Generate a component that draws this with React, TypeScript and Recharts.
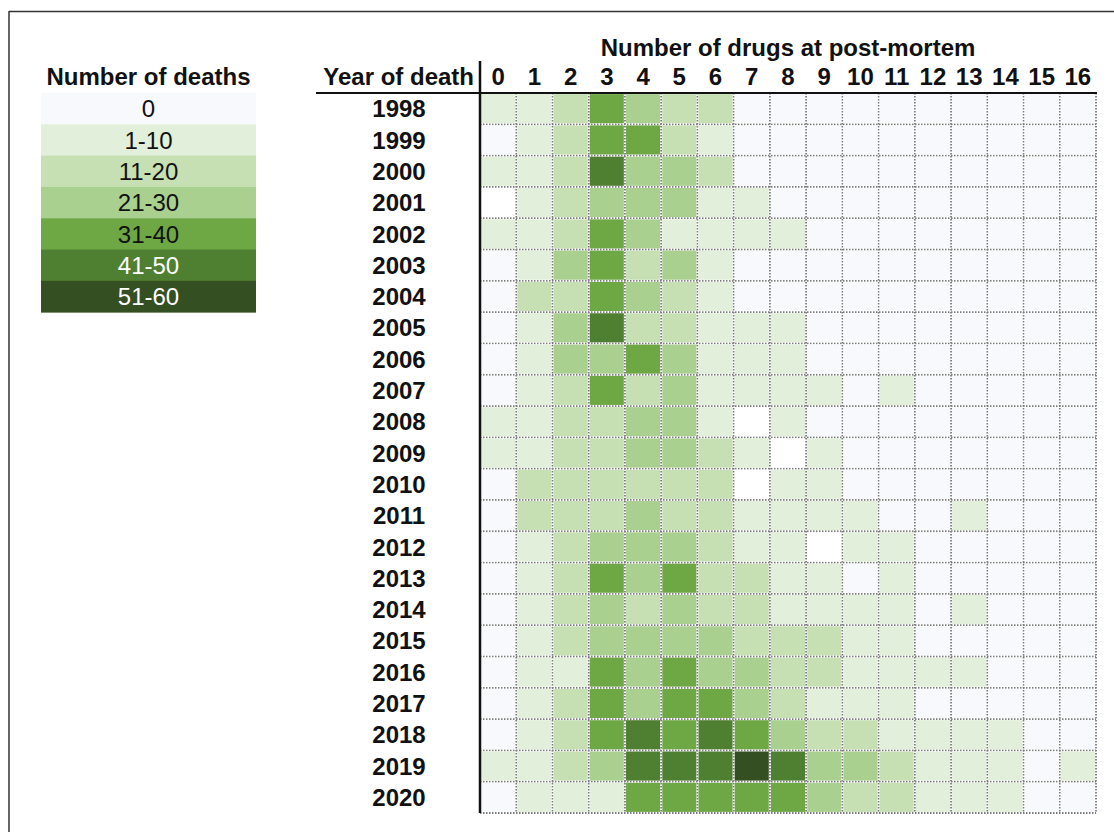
import React from 'react';
import { ScatterChart, Scatter, XAxis, YAxis, CartesianGrid } from 'recharts';

// Rows: year of death. Columns: number of drugs found at post-mortem (0..16).
// Each entry is the estimated number of deaths; null marks an empty cell.
const YEARS = [
  1998, 1999, 2000, 2001, 2002, 2003, 2004, 2005, 2006, 2007, 2008, 2009,
  2010, 2011, 2012, 2013, 2014, 2015, 2016, 2017, 2018, 2019, 2020,
];
const DRUG_COUNTS = [0, 1, 2, 3, 4, 5, 6, 7, 8, 9, 10, 11, 12, 13, 14, 15, 16];

const DEATHS_1998 = [5, 5, 15, 35, 25, 15, 15, 0, 0, 0, 0, 0, 0, 0, 0, 0, 0];
const DEATHS_1999 = [0, 5, 15, 35, 35, 15, 5, 0, 0, 0, 0, 0, 0, 0, 0, 0, 0];
const DEATHS_2000 = [5, 5, 15, 45, 25, 25, 15, 0, 0, 0, 0, 0, 0, 0, 0, 0, 0];
const DEATHS_2001 = [null, 5, 15, 25, 25, 25, 5, 5, 0, 0, 0, 0, 0, 0, 0, 0, 0];
const DEATHS_2002 = [5, 5, 15, 35, 25, 5, 5, 5, 5, 0, 0, 0, 0, 0, 0, 0, 0];
const DEATHS_2003 = [0, 5, 25, 35, 15, 25, 5, 0, 0, 0, 0, 0, 0, 0, 0, 0, 0];
const DEATHS_2004 = [0, 15, 15, 35, 25, 15, 5, 0, 0, 0, 0, 0, 0, 0, 0, 0, 0];
const DEATHS_2005 = [0, 5, 25, 45, 15, 15, 5, 5, 5, 0, 0, 0, 0, 0, 0, 0, 0];
const DEATHS_2006 = [0, 5, 25, 25, 35, 25, 5, 5, 5, 0, 0, 0, 0, 0, 0, 0, 0];
const DEATHS_2007 = [0, 5, 15, 35, 15, 25, 5, 5, 5, 5, 0, 5, 0, 0, 0, 0, 0];
const DEATHS_2008 = [5, 5, 15, 15, 25, 25, 5, null, 5, 0, 0, 0, 0, 0, 0, 0, 0];
const DEATHS_2009 = [5, 5, 15, 15, 25, 25, 15, 5, null, 5, 0, 0, 0, 0, 0, 0, 0];
const DEATHS_2010 = [0, 15, 15, 15, 15, 15, 15, null, 5, 5, 0, 0, 0, 0, 0, 0, 0];
const DEATHS_2011 = [0, 15, 15, 15, 25, 15, 15, 5, 5, 5, 5, 0, 0, 5, 0, 0, 0];
const DEATHS_2012 = [0, 5, 15, 25, 25, 25, 15, 5, 5, null, 5, 5, 0, 0, 0, 0, 0];
const DEATHS_2013 = [0, 5, 15, 35, 25, 35, 15, 15, 5, 5, 0, 5, 0, 0, 0, 0, 0];
const DEATHS_2014 = [0, 5, 15, 25, 15, 25, 15, 15, 5, 5, 5, 5, 0, 5, 0, 0, 0];
const DEATHS_2015 = [0, 5, 15, 25, 25, 25, 25, 15, 15, 15, 5, 5, 0, 0, 0, 0, 0];
const DEATHS_2016 = [0, 5, 5, 35, 25, 35, 25, 25, 15, 15, 5, 5, 5, 5, 0, 0, 0];
const DEATHS_2017 = [0, 5, 15, 35, 25, 35, 35, 25, 15, 5, 5, 5, 0, 0, 0, 0, 0];
const DEATHS_2018 = [0, 5, 15, 35, 45, 35, 45, 35, 25, 15, 15, 5, 5, 5, 5, 0, 0];
const DEATHS_2019 = [5, 5, 15, 25, 45, 45, 45, 55, 45, 25, 25, 15, 5, 5, 5, 0, 5];
const DEATHS_2020 = [0, 5, 5, 5, 35, 35, 35, 35, 35, 25, 15, 15, 5, 5, 5, 0, 0];

const DEATH_ROWS = [
  DEATHS_1998, DEATHS_1999, DEATHS_2000, DEATHS_2001, DEATHS_2002, DEATHS_2003,
  DEATHS_2004, DEATHS_2005, DEATHS_2006, DEATHS_2007, DEATHS_2008, DEATHS_2009,
  DEATHS_2010, DEATHS_2011, DEATHS_2012, DEATHS_2013, DEATHS_2014, DEATHS_2015,
  DEATHS_2016, DEATHS_2017, DEATHS_2018, DEATHS_2019, DEATHS_2020,
];

const BIN_LABELS = ['0', '1-10', '11-20', '21-30', '31-40', '41-50', '51-60'];
const BIN_UPPER = [0, 10, 20, 30, 40, 50, 60];
const BIN_COLORS = ['#f7f9fd', '#e2efda', '#c6e0b4', '#a9d08e', '#6ea845', '#4f7f31', '#344f22'];
const BIN_TEXT = ['#111', '#111', '#111', '#111', '#111', '#fff', '#fff'];

const FONT = '"Liberation Sans", Arial, sans-serif';
const WIDTH = 1114;
const HEIGHT = 832;
const PLOT_LEFT = 480;
const PLOT_RIGHT = 1096;
const PLOT_TOP = 93;
const PLOT_BOTTOM = 813;
const CELL_W = (PLOT_RIGHT - PLOT_LEFT) / DRUG_COUNTS.length;
const CELL_H = (PLOT_BOTTOM - PLOT_TOP) / YEARS.length;

const cells = DEATH_ROWS.flatMap((row, y) =>
  row.map((deaths, x) => ({ x, y, deaths })),
);

function binColor(deaths: number | null) {
  if (deaths === null) return '#ffffff';
  const idx = BIN_UPPER.findIndex((upper) => deaths <= upper);
  return BIN_COLORS[idx < 0 ? BIN_COLORS.length - 1 : idx];
}

// filled square with a thin white gutter so the dotted grid shows between cells
const HeatCell = (props: any) => {
  const { cx, cy, payload } = props;
  return (
    <rect
      x={cx - CELL_W / 2 + 1.1}
      y={cy - CELL_H / 2 + 1.1}
      width={CELL_W - 2.2}
      height={CELL_H - 2.2}
      fill={binColor(payload.deaths)}
    />
  );
};

const DrugTick = ({ x, payload }: any) => (
  <text x={x} y={85} textAnchor="middle" fontFamily={FONT} fontSize={24} fontWeight="bold" fill="#111">
    {payload.value}
  </text>
);

const YearTick = ({ y, payload }: any) => (
  <text x={399} y={y} dy="0.36em" textAnchor="middle" fontFamily={FONT} fontSize={24} fontWeight="bold" fill="#111">
    {YEARS[payload.value]}
  </text>
);

const gridX = DRUG_COUNTS.map((_, i) => PLOT_LEFT + i * CELL_W).concat(PLOT_RIGHT);
const gridY = YEARS.map((_, i) => PLOT_TOP + i * CELL_H).concat(PLOT_BOTTOM);

export default function App() {
  return (
    <div style={{ position: 'fixed', left: 0, top: 0, width: WIDTH, height: HEIGHT, background: '#fff' }}>
      <ScatterChart
        width={WIDTH}
        height={HEIGHT}
        margin={{ top: 0, right: WIDTH - PLOT_RIGHT, bottom: HEIGHT - PLOT_BOTTOM, left: 0 }}
      >
        <CartesianGrid
          verticalPoints={gridX}
          horizontalPoints={gridY}
          stroke="#7d7d7d"
          strokeWidth={1.8}
          strokeDasharray="1.5 1.5"
        />
        <XAxis
          type="number"
          dataKey="x"
          orientation="top"
          height={PLOT_TOP}
          domain={[-0.5, DRUG_COUNTS.length - 0.5]}
          ticks={DRUG_COUNTS}
          interval={0}
          axisLine={false}
          tickLine={false}
          tick={<DrugTick />}
        />
        <YAxis
          type="number"
          dataKey="y"
          width={PLOT_LEFT}
          reversed
          domain={[-0.5, YEARS.length - 0.5]}
          ticks={YEARS.map((_, i) => i)}
          interval={0}
          axisLine={false}
          tickLine={false}
          tick={<YearTick />}
        />
        <Scatter data={cells} shape={<HeatCell />} isAnimationActive={false} />
      </ScatterChart>

      <svg
        width={WIDTH}
        height={HEIGHT}
        style={{ position: 'absolute', left: 0, top: 0, pointerEvents: 'none' }}
        fontFamily={FONT}
      >
        {/* frame */}
        <line x1={9} y1={11.5} x2={WIDTH} y2={11.5} stroke="#333" strokeWidth={1.5} />
        <line x1={9} y1={11} x2={9} y2={HEIGHT} stroke="#333" strokeWidth={1.5} />

        {/* table headers and rules */}
        <text x={(PLOT_LEFT + PLOT_RIGHT) / 2} y={56} textAnchor="middle" fontSize={24} fontWeight="bold" fill="#111">
          Number of drugs at post-mortem
        </text>
        <text x={474} y={85} textAnchor="end" fontSize={24} fontWeight="bold" fill="#111">
          Year of death
        </text>
        <line x1={316} y1={93} x2={PLOT_RIGHT + 1} y2={93} stroke="#111" strokeWidth={2.2} />
        <line x1={PLOT_LEFT} y1={61} x2={PLOT_LEFT} y2={PLOT_BOTTOM} stroke="#111" strokeWidth={2.5} />

        {/* colour key */}
        <text x={148.5} y={85} textAnchor="middle" fontSize={24} fontWeight="bold" fill="#111">
          Number of deaths
        </text>
        {BIN_LABELS.map((label, i) => (
          <g key={label}>
            <rect x={41} y={PLOT_TOP + i * CELL_H} width={215} height={CELL_H + 0.5} fill={BIN_COLORS[i]} />
            <text
              x={148.5}
              y={PLOT_TOP + (i + 0.5) * CELL_H}
              dy="0.36em"
              textAnchor="middle"
              fontSize={24}
              fill={BIN_TEXT[i]}
            >
              {label}
            </text>
          </g>
        ))}
      </svg>
    </div>
  );
}
